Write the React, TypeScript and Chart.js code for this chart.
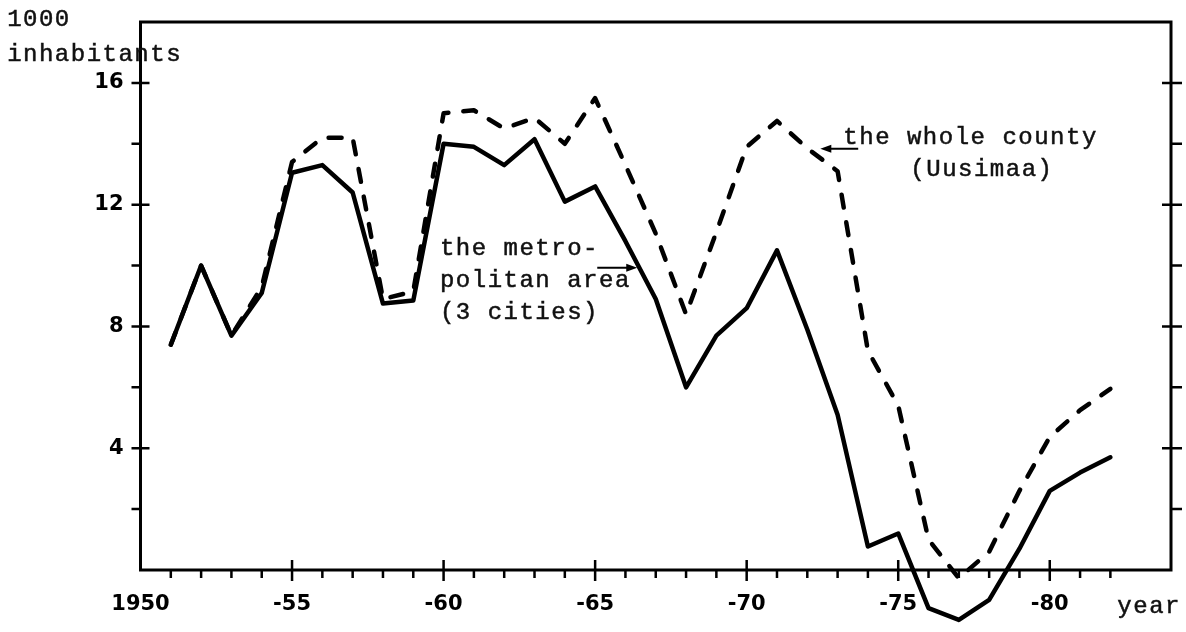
import React, { useEffect, useRef } from "react";
import { Chart, registerables } from "chart.js";

Chart.register(...registerables);

// ---- data ----
const YEARS = [
  1951, 1952, 1953, 1954, 1955, 1956, 1957, 1958, 1959, 1960, 1961, 1962, 1963, 1964, 1965, 1966,
  1967, 1968, 1969, 1970, 1971, 1972, 1973, 1974, 1975, 1976, 1977, 1978, 1979, 1980, 1981, 1982,
];
// metropolitan area (3 cities) – solid
const METRO = [
  7.4, 10.0, 7.7, 9.1, 13.05, 13.3, 12.4, 8.75, 8.85, 14.0, 13.9, 13.3, 14.15, 12.1, 12.6, 10.8,
  8.9, 6.0, 7.7, 8.6, 10.5, 7.9, 5.1, 0.77, 1.2, -1.25, -1.64, -0.98, 0.7, 2.6, 3.2, 3.7,
];
// the whole county (Uusimaa) – dashed
const COUNTY = [
  7.4, 10.0, 7.7, 9.3, 13.4, 14.2, 14.2, 8.9, 9.15, 15.0, 15.1, 14.5, 14.85, 14.0, 15.5, 13.3,
  11.05, 8.4, 11.1, 13.9, 14.75, 13.85, 13.1, 7.2, 5.4, 1.0, -0.27, 0.6, 2.6, 4.37, 5.25, 5.95,
];
const X_LABEL_YEARS = [1950, 1955, 1960, 1965, 1970, 1975, 1980];
const Y_LABEL_VALUES = [4, 8, 12, 16];

// text notes in data coordinates
const NOTES = [
  { text: "1000", x: 1945.6, y: 17.87 },
  { text: "inhabitants", x: 1945.6, y: 16.72 },
  { text: "the metro-", x: 1959.88, y: 10.36 },
  { text: "politan area", x: 1959.88, y: 9.3 },
  { text: "(3 cities)", x: 1959.88, y: 8.26 },
  { text: "the whole county", x: 1973.19, y: 14.0 },
  { text: "(Uusimaa)", x: 1975.4, y: 12.95 },
  { text: "year", x: 1982.23, y: -1.41 },
];
const ARROWS = [
  { x0: 1965.07, x1: 1966.39, y: 9.93 },
  { x0: 1973.68, x1: 1972.43, y: 13.84 },
];

const MONO = '"Liberation Mono", "DejaVu Sans Mono", monospace';
const BOLD = { family: '"DejaVu Sans", sans-serif', weight: "bold" as const, size: 21 };

const framePlugin = {
  id: "frame",
  beforeDatasetsDraw(chart: any) {
    const { ctx, chartArea } = chart;
    const xs = chart.scales.x;
    const ys = chart.scales.y;
    const { left, right, top, bottom } = chartArea;
    ctx.save();
    ctx.strokeStyle = "#000";
    ctx.lineWidth = 3;
    ctx.strokeRect(left, top, right - left, bottom - top);
    ctx.lineWidth = 2.5;
    ctx.beginPath();
    for (let v = 2; v <= 16; v += 2) {
      const py = ys.getPixelForValue(v);
      const major = v % 4 === 0;
      ctx.moveTo(left - 9, py);
      ctx.lineTo(major ? left + 9 : left, py);
      ctx.moveTo(major ? right - 9 : right, py);
      ctx.lineTo(right + 11, py);
    }
    for (let yr = 1951; yr <= 1982; yr++) {
      const px = xs.getPixelForValue(yr);
      const major = yr % 5 === 0;
      ctx.moveTo(px, major ? bottom - 10 : bottom);
      ctx.lineTo(px, major ? bottom + 11 : bottom + 8);
    }
    ctx.stroke();
    ctx.restore();
  },
  afterDatasetsDraw(chart: any) {
    const { ctx } = chart;
    const xs = chart.scales.x;
    const ys = chart.scales.y;
    ctx.save();
    ctx.fillStyle = "#111";
    ctx.strokeStyle = "#111";
    ctx.font = `24px ${MONO}`;
    (ctx as any).letterSpacing = "1.5px";
    ctx.textAlign = "left";
    ctx.textBaseline = "alphabetic";
    ctx.lineWidth = 0.5;
    for (const n of NOTES) {
      const px = xs.getPixelForValue(n.x);
      const py = ys.getPixelForValue(n.y);
      ctx.fillText(n.text, px, py);
      ctx.strokeText(n.text, px, py);
    }
    ctx.lineWidth = 2;
    ctx.strokeStyle = "#000";
    ctx.fillStyle = "#000";
    for (const a of ARROWS) {
      const x0 = xs.getPixelForValue(a.x0);
      const x1 = xs.getPixelForValue(a.x1);
      const py = ys.getPixelForValue(a.y);
      const dir = Math.sign(x1 - x0);
      ctx.beginPath();
      ctx.moveTo(x0, py);
      ctx.lineTo(x1 - dir * 6, py);
      ctx.stroke();
      ctx.beginPath();
      ctx.moveTo(x1, py);
      ctx.lineTo(x1 - dir * 11, py - 4);
      ctx.lineTo(x1 - dir * 11, py + 4);
      ctx.closePath();
      ctx.fill();
    }
    ctx.restore();
  },
};

export default function App() {
  const ref = useRef<HTMLCanvasElement | null>(null);
  useEffect(() => {
    if (!ref.current) return;
    const chart = new Chart(ref.current, {
      type: "line",
      data: {
        datasets: [
          {
            label: "the metropolitan area (3 cities)",
            data: YEARS.map((y, i) => ({ x: y, y: METRO[i] })),
            borderColor: "#000",
            borderWidth: 4.5,
            pointRadius: 0,
            tension: 0,
            clip: false as any,
            borderJoinStyle: "round",
            borderCapStyle: "round",
          },
          {
            label: "the whole county (Uusimaa)",
            data: YEARS.map((y, i) => ({ x: y, y: COUNTY[i] })),
            borderColor: "#000",
            borderWidth: 4.5,
            borderDash: [13, 15],
            borderCapStyle: "round",
            borderJoinStyle: "round",
            pointRadius: 0,
            tension: 0,
            clip: false as any,
          },
        ],
      },
      options: {
        animation: false,
        responsive: true,
        maintainAspectRatio: false,
        devicePixelRatio: 1,
        layout: { padding: { top: 22, right: 15, left: 0, bottom: 0 } },
        plugins: { legend: { display: false }, tooltip: { enabled: false } },
        scales: {
          x: {
            type: "linear",
            min: 1950,
            max: 1984,
            grid: { display: false, drawTicks: false },
            border: { display: false },
            afterBuildTicks: (s: any) => {
              s.ticks = X_LABEL_YEARS.map((v) => ({ value: v }));
            },
            afterFit: (s: any) => {
              s.height = 62;
            },
            ticks: {
              autoSkip: false,
              maxRotation: 0,
              minRotation: 0,
              padding: 22,
              color: "#000",
              font: BOLD,
              callback: (v: any) => (v === 1950 ? "1950" : "-" + String(v).slice(2)),
            },
          },
          y: {
            type: "linear",
            min: 0,
            max: 18,
            grid: { display: false, drawTicks: false },
            border: { display: false },
            afterBuildTicks: (s: any) => {
              s.ticks = Y_LABEL_VALUES.map((v) => ({ value: v }));
            },
            afterFit: (s: any) => {
              s.width = 140.5;
              s.paddingTop = 0;
              s.paddingBottom = 0;
            },
            ticks: {
              padding: 17,
              color: "#000",
              font: BOLD,
              callback: (v: any) => String(v),
            },
          },
        },
      },
      plugins: [framePlugin],
    });
    return () => chart.destroy();
  }, []);
  return (
    <div style={{ position: "fixed", left: 0, top: 0, width: 1186, height: 632, background: "#fff" }}>
      <canvas ref={ref} />
    </div>
  );
}
